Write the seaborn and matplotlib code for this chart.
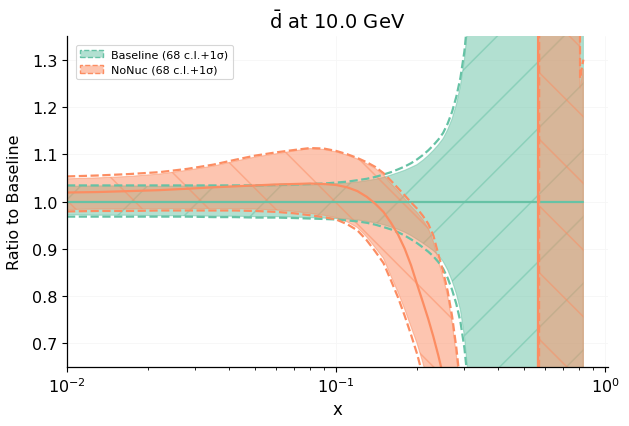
import matplotlib
matplotlib.use('Agg')
import matplotlib.pyplot as plt
from matplotlib.patches import Patch
from matplotlib.colors import to_rgba
import numpy as np
import seaborn as sns

# x grid shared by both fits
x_grid = [0.010, 0.013, 0.017, 0.022, 0.028, 0.035, 0.042, 0.050, 0.060, 0.070,
          0.080, 0.090, 0.100, 0.110, 0.120, 0.130, 0.140, 0.150, 0.160, 0.170,
          0.180, 0.190, 0.200, 0.210, 0.220, 0.230, 0.240, 0.250, 0.260, 0.270,
          0.280, 0.290, 0.300, 0.310, 0.320, 0.340, 0.400, 0.500, 0.560, 0.565,
          0.572, 0.650, 0.750, 0.790, 0.807, 0.830]

# Baseline (ratio to itself)
base_mid = [1.0] * len(x_grid)
base_hi = [1.032, 1.033, 1.033, 1.032, 1.033, 1.033, 1.032, 1.032, 1.033, 1.034,
           1.035, 1.036, 1.038, 1.039, 1.041, 1.044, 1.047, 1.051, 1.056, 1.061,
           1.066, 1.072, 1.078, 1.087, 1.097, 1.108, 1.120, 1.133, 1.152, 1.175,
           1.205, 1.245, 1.300, 1.380, 1.480, 1.800, 3.0, 3.0, 3.0, 3.0,
           3.0, 3.0, 3.0, 3.0, 3.0, 3.0]
base_lo = [0.972, 0.971, 0.971, 0.970, 0.970, 0.969, 0.969, 0.968, 0.968, 0.967,
           0.966, 0.965, 0.964, 0.963, 0.961, 0.958, 0.955, 0.951, 0.946, 0.941,
           0.935, 0.928, 0.920, 0.912, 0.904, 0.896, 0.886, 0.873, 0.855, 0.832,
           0.805, 0.770, 0.715, 0.630, 0.530, 0.300, -1.0, -1.0, -1.0, -1.0,
           -1.0, -1.0, -1.0, -1.0, -1.0, -1.0]
base_sig_hi = [1.034, 1.034, 1.034, 1.034, 1.034, 1.034, 1.034, 1.034, 1.035, 1.036,
               1.037, 1.038, 1.040, 1.042, 1.045, 1.048, 1.052, 1.057, 1.062, 1.068,
               1.074, 1.081, 1.089, 1.098, 1.108, 1.119, 1.131, 1.145, 1.165, 1.190,
               1.222, 1.262, 1.318, 1.400, 1.500, 1.820, 3.0, 3.0, 3.0, 3.0,
               3.0, 3.0, 3.0, 3.0, 3.0, 3.0]
base_sig_lo = [0.968, 0.968, 0.968, 0.968, 0.968, 0.967, 0.967, 0.966, 0.966, 0.965,
               0.964, 0.963, 0.962, 0.960, 0.958, 0.955, 0.951, 0.946, 0.941, 0.935,
               0.928, 0.920, 0.912, 0.903, 0.894, 0.884, 0.872, 0.858, 0.838, 0.813,
               0.783, 0.745, 0.690, 0.610, 0.510, 0.280, -1.0, -1.0, -1.0, -1.0,
               -1.0, -1.0, -1.0, -1.0, -1.0, -1.0]

# NoNuc fit
nuc_mid = [1.019, 1.020, 1.022, 1.024, 1.027, 1.030, 1.032, 1.034, 1.036, 1.037,
           1.038, 1.037, 1.035, 1.030, 1.022, 1.010, 0.995, 0.978, 0.955, 0.930,
           0.900, 0.865, 0.825, 0.788, 0.752, 0.714, 0.674, 0.632, 0.590, 0.545,
           0.500, 0.450, 0.400, 0.340, 0.280, 0.150, -0.40, -2.0, -4.0, 4.0,
           4.0, 3.0, 3.0, 3.0, 3.0, 3.0]
nuc_hi = [1.048, 1.050, 1.053, 1.058, 1.066, 1.075, 1.085, 1.094, 1.101, 1.107,
          1.112, 1.110, 1.105, 1.098, 1.090, 1.080, 1.070, 1.056, 1.038, 1.022,
          1.006, 0.990, 0.977, 0.962, 0.944, 0.915, 0.875, 0.840, 0.800, 0.745,
          0.675, 0.595, 0.510, 0.430, 0.350, 0.200, -0.2, -1.5, -3.0, 5.0,
          5.0, 5.0, 5.0, 5.0, 1.24, 1.28]
nuc_lo = [0.983, 0.984, 0.984, 0.985, 0.985, 0.985, 0.985, 0.984, 0.982, 0.979,
          0.975, 0.971, 0.966, 0.957, 0.945, 0.925, 0.902, 0.880, 0.842, 0.808,
          0.772, 0.735, 0.700, 0.660, 0.615, 0.560, 0.505, 0.450, 0.400, 0.350,
          0.300, 0.250, 0.200, 0.150, 0.100, 0.000, -0.5, -2.0, -4.0, -5.0,
          -5.0, -5.0, -5.0, -5.0, -5.0, -5.0]
nuc_sig_hi = [1.053, 1.055, 1.058, 1.062, 1.069, 1.078, 1.088, 1.097, 1.104, 1.109,
              1.113, 1.112, 1.107, 1.100, 1.092, 1.083, 1.073, 1.060, 1.044, 1.028,
              1.013, 0.998, 0.985, 0.970, 0.953, 0.928, 0.888, 0.852, 0.810, 0.757,
              0.690, 0.610, 0.520, 0.430, 0.350, 0.200, -0.2, -1.5, -3.0, -3.0,
              5.0, 5.0, 5.0, 5.0, 1.26, 1.30]
nuc_sig_lo = [0.979, 0.980, 0.980, 0.981, 0.981, 0.981, 0.981, 0.980, 0.978, 0.975,
              0.971, 0.967, 0.962, 0.952, 0.939, 0.918, 0.894, 0.870, 0.833, 0.797,
              0.758, 0.718, 0.678, 0.632, 0.586, 0.535, 0.485, 0.435, 0.385, 0.335,
              0.285, 0.235, 0.185, 0.135, 0.085, -0.01, -0.5, -2.0, -4.0, -5.0,
              -5.0, -5.0, -5.0, -5.0, -5.0, -5.0]

labels = ['Baseline (68 c.l.+1σ)', 'NoNuc (68 c.l.+1σ)']

sns.set_style('ticks')
plt.rcParams['font.family'] = ['DejaVu Sans']
plt.rcParams['hatch.linewidth'] = 0.55
for key in ['text.color', 'axes.labelcolor', 'xtick.color', 'ytick.color', 'axes.edgecolor']:
    plt.rcParams[key] = 'black'
pal = sns.color_palette('Set2')
c_base, c_nuc = pal[0], pal[1]

DPI = 200
fig = plt.figure(figsize=(629 / DPI, 427 / DPI), dpi=DPI)
ax = fig.add_axes([67 / 629, 59 / 427, 541 / 629, 331 / 427])
ax.set_xscale('log')

bands = [
    (base_mid, base_lo, base_hi, base_sig_lo, base_sig_hi, c_base, '/'),
    (nuc_mid, nuc_lo, nuc_hi, nuc_sig_lo, nuc_sig_hi, c_nuc, '\\'),
]
handles = []
for mid, lo, hi, slo, shi, c, hatch in bands:
    ax.fill_between(x_grid, lo, hi, facecolor=c, edgecolor=c, alpha=0.5,
                    hatch=hatch, linewidth=0.4)
    sns.lineplot(x=x_grid, y=mid, color=c, lw=0.8, ax=ax)
    sns.lineplot(x=x_grid, y=shi, color=c, lw=0.8, linestyle='--', ax=ax)
    sns.lineplot(x=x_grid, y=slo, color=c, lw=0.8, linestyle='--', ax=ax)
    handles.append(Patch(facecolor=to_rgba(c, 0.5), edgecolor=c,
                         linestyle='--', linewidth=0.5))

ax.set_xlim(0.01, 1.025)
ax.set_ylim(0.65, 1.35)
ax.grid(True, color='0.965', lw=0.3)
ax.set_title(r'$\bar{\mathrm{d}}$ at 10.0 GeV', fontsize=7, pad=3)
ax.set_xlabel('x', fontsize=6, labelpad=2)
ax.set_ylabel('Ratio to Baseline', fontsize=5.75, labelpad=3.5)
ax.tick_params(which='major', labelsize=5.75, length=1.8, width=0.4, pad=1.5)
ax.tick_params(which='minor', length=1.1, width=0.3)
for s in ax.spines.values():
    s.set_linewidth(0.45)
sns.despine(ax=ax)

leg = ax.legend(handles, labels, loc='upper left', fontsize=4, frameon=True,
                borderaxespad=0.8)
leg.get_frame().set_linewidth(0.4)

fig.savefig('out.png', dpi=DPI)
